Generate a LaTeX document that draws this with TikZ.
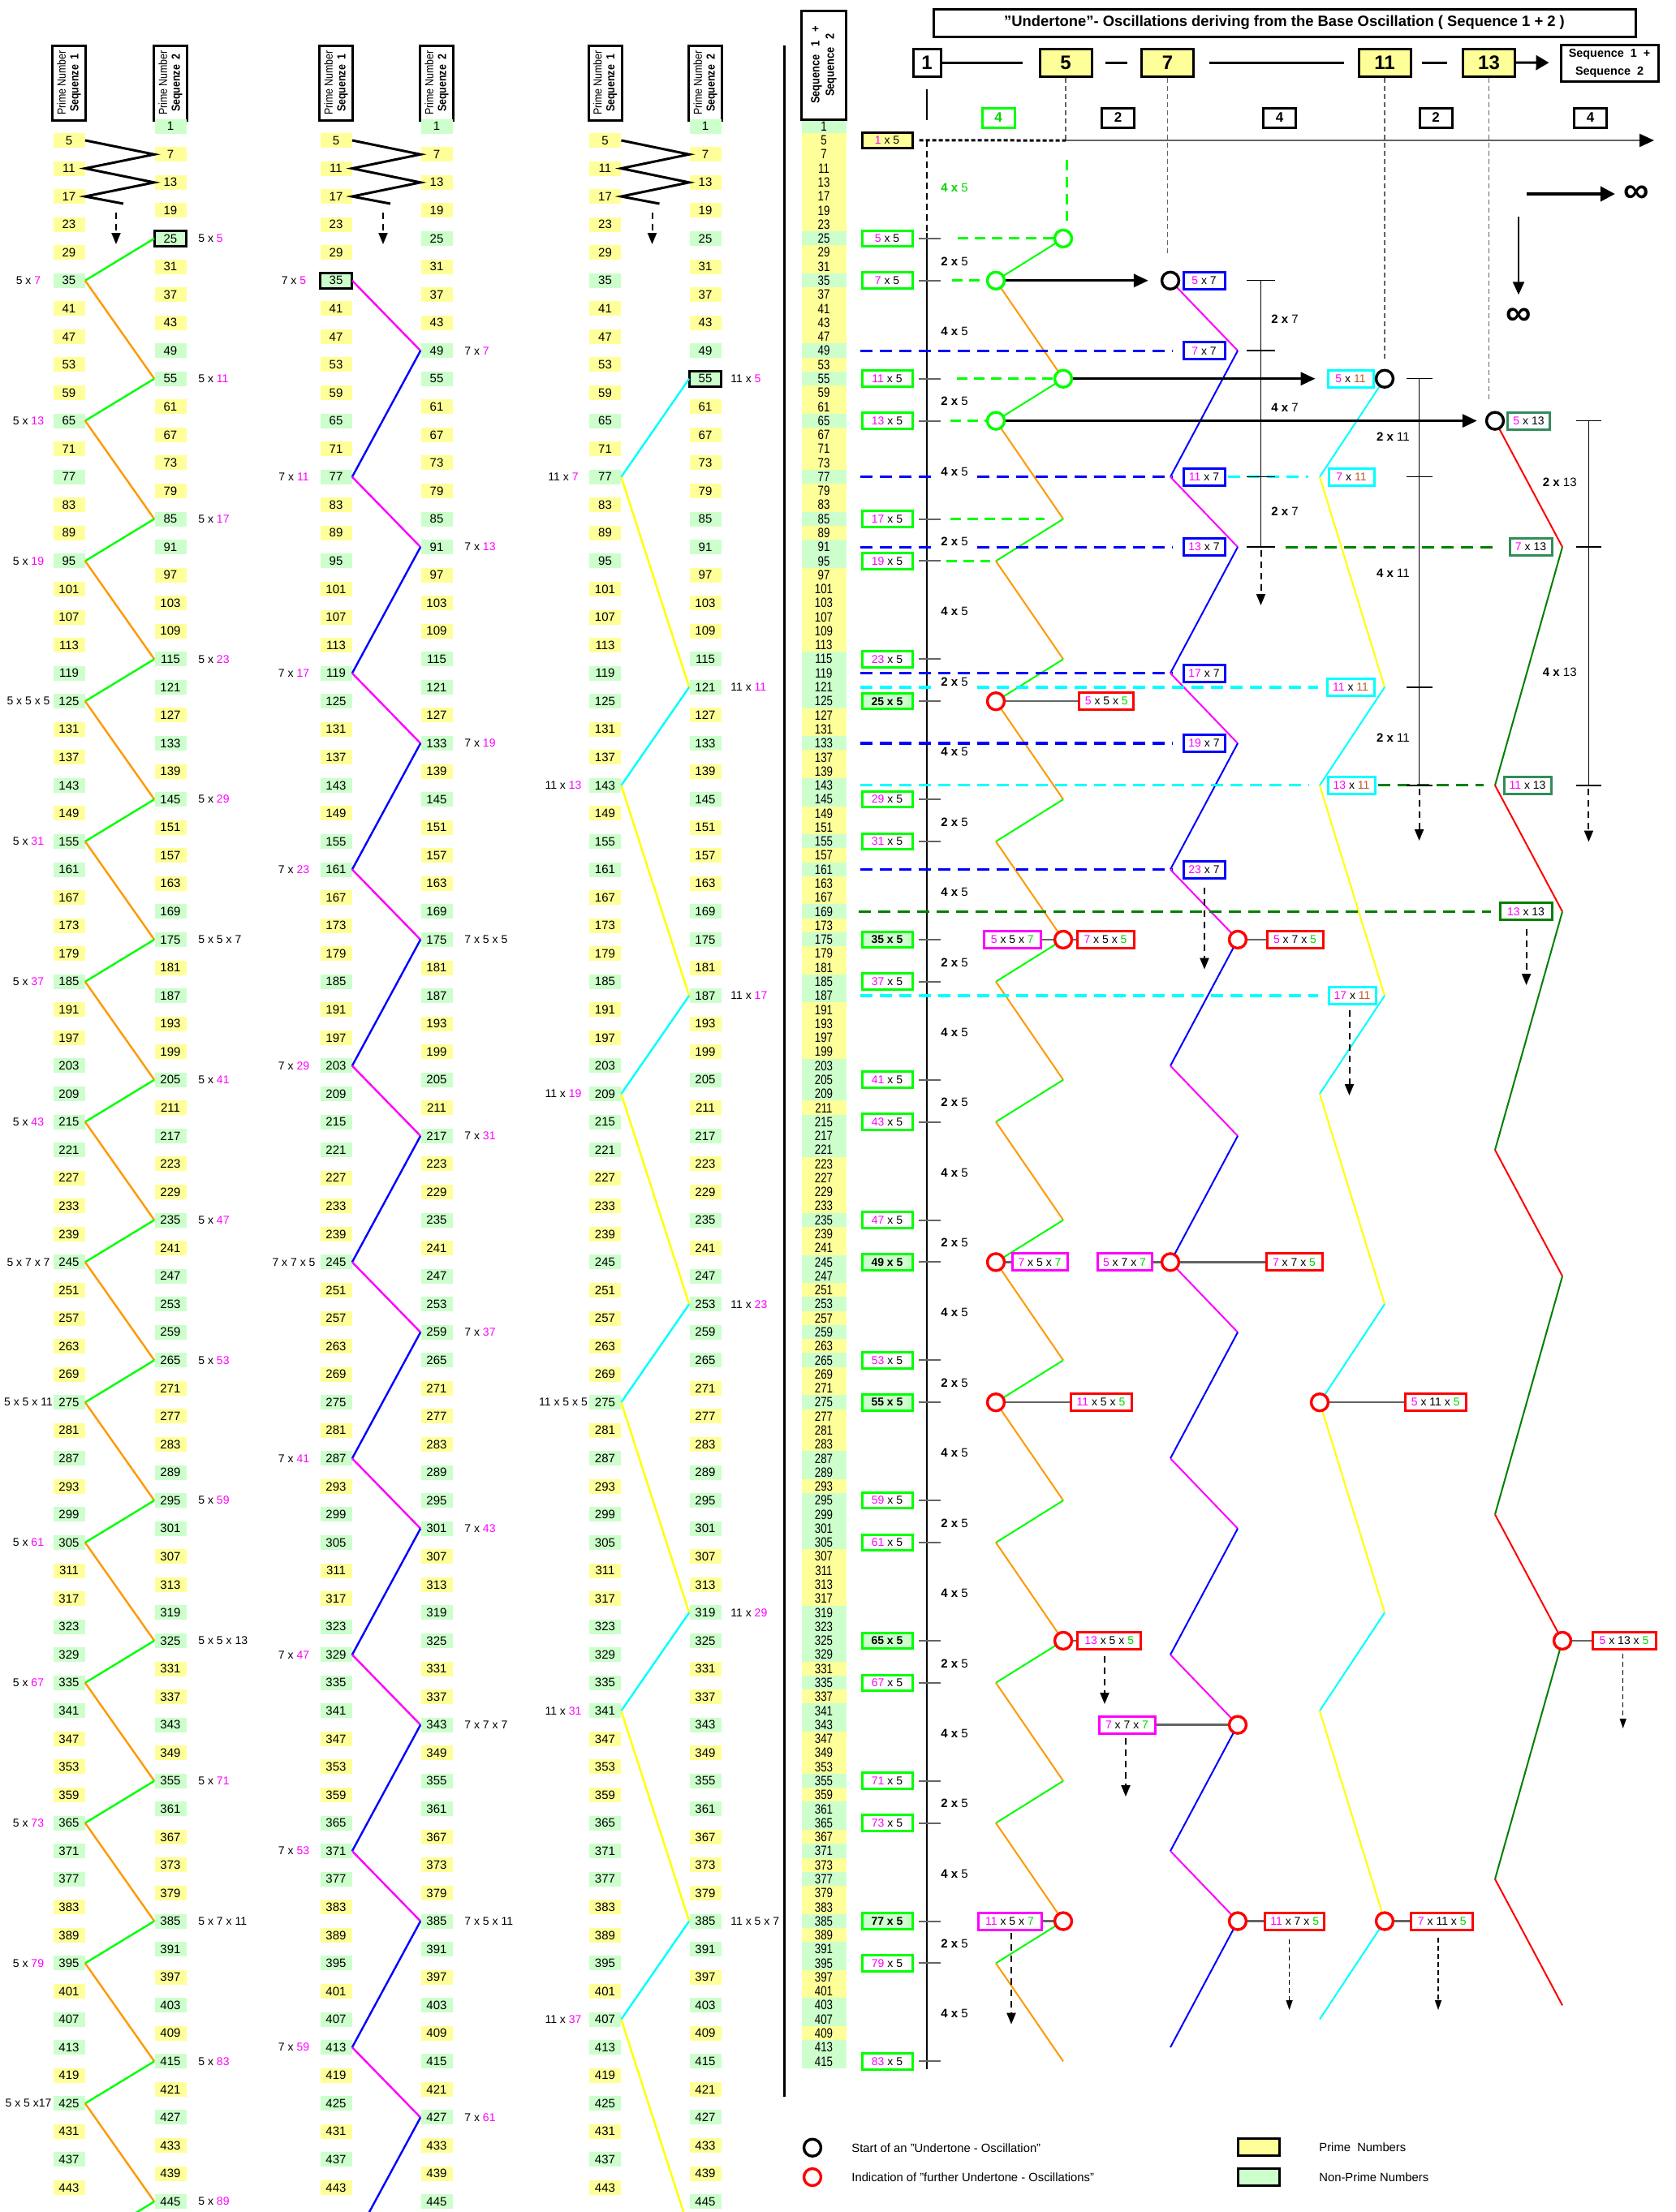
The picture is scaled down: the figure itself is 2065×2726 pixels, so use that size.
\documentclass[tikz,border=0pt]{standalone}
\usepackage{fontspec}
\setmainfont{Liberation Sans}
\newfontfamily\nar[FakeStretch=0.86]{Liberation Sans}
\newfontfamily\narr[FakeStretch=0.8]{Liberation Sans}
\usetikzlibrary{arrows.meta}
\pgfdeclarelayer{fg}
\pgfsetlayers{main,fg}
\definecolor{pyel}{RGB}{255,255,153}
\definecolor{pgrn}{RGB}{204,255,204}
\definecolor{cmg}{RGB}{255,0,255}
\definecolor{cgn}{RGB}{0,255,0}
\definecolor{cgt}{RGB}{0,215,0}
\definecolor{cor}{RGB}{255,153,0}
\definecolor{ccy}{RGB}{0,255,255}
\definecolor{cye}{RGB}{255,255,0}
\definecolor{cdg}{RGB}{0,128,0}
\definecolor{csg}{RGB}{51,140,90}
\definecolor{cbr}{RGB}{190,90,40}
\definecolor{cbl}{RGB}{0,0,255}
\definecolor{crd}{RGB}{255,0,0}
\definecolor{cgy}{RGB}{100,100,100}
\newcommand\cmag[1]{\textcolor{cmg}{#1}}
\newcommand\cgrn[1]{\textcolor{cgt}{#1}}
\newcommand\cbrn[1]{\textcolor{cbr}{#1}}
\def\ypr{pyel}
\newcommand\tdiv[2]{\ifnum#1>#2\relax\ifnum\numexpr(#1/#2)*#2\relax=#1\relax\def\cellc{pgrn}\fi\fi}
\newcommand\setcellc[1]{\def\cellc{pyel}\ifnum#1=1\relax\def\cellc{pgrn}\fi
  \tdiv{#1}{5}\tdiv{#1}{7}\tdiv{#1}{11}\tdiv{#1}{13}\tdiv{#1}{17}\tdiv{#1}{19}}
\pgfmathdeclarefunction{ry}{1}{\pgfmathparse{155.7+17.28*#1}}
\newcommand\zig[4]{%
  \foreach \nn [remember=\nn as \prv (initially 0)] in {#4}{%
    \ifnum\prv>0\relax
      \ifnum\numexpr((\prv-1)/6)*6+1\relax=\prv\relax
        \draw[zz,#2] (#1\prv.west) -- (#1\nn.east);
      \else
        \draw[zz,#3] (#1\prv.east) -- (#1\nn.west);
      \fi
    \fi}}
\newcommand\oscpts[4]{%
  \foreach \nn in {#4}{%
    \edef\rr{\the\numexpr(\nn-1)/3\relax}%
    \ifodd\rr\relax \coordinate (#1\nn) at (#2,{ry(\rr)});%
    \else \coordinate (#1\nn) at (#3,{ry(\rr)});\fi}}
\newcommand\osclines[4]{%
  \foreach \nn [remember=\nn as \prv (initially 0)] in {#4}{%
    \ifnum\prv>0\relax
      \ifnum\numexpr((\prv-1)/6)*6+1\relax=\prv\relax
        \draw[osl,#2] (#1\prv) -- (#1\nn);
      \else
        \draw[osl,#3] (#1\prv) -- (#1\nn);
      \fi
    \fi}}
\newcommand\clab[5]{%
  \edef\rr{\the\numexpr(#2-1)/3\relax}%
  \ifodd\rr\relax \node[lab] (#1l#2) at (#4,{ry(\rr)}) {#3};%
  \else \node[lab,anchor=west] (#1l#2) at (#5,{ry(\rr)}) {#3};\fi}
\tikzset{
 numbox/.style={minimum width=19.5pt,minimum height=9pt,inner sep=0pt,font=\fontsize{7.5}{8}\selectfont},
 cbox/.style={minimum width=27.5pt,minimum height=8.9pt,inner sep=0pt,font=\narr\fontsize{8.3}{8.5}\selectfont},
 lab/.style={inner sep=0pt,font=\fontsize{7}{8}\selectfont},
 hdr/.style={draw,line width=1.5pt,rotate=90,minimum width=46pt,minimum height=20.5pt,inner sep=0pt,align=center,font=\nar\fontsize{7.2}{7.9}\selectfont},
 zz/.style={line width=1.2pt},
 osl/.style={line width=1pt},
 fbox/.style={draw=cgn,line width=1.5pt,fill=white,minimum width=31pt,minimum height=9.8pt,inner sep=0pt,font=\fontsize{7}{8}\selectfont},
 sbox/.style={draw,line width=1.5pt,fill=white,minimum width=20pt,minimum height=12pt,inner sep=0pt,font=\bfseries\fontsize{8.5}{9}\selectfont},
 hbox/.style={draw,line width=1.5pt,fill=pyel,minimum width=32pt,minimum height=17pt,inner sep=0pt,font=\bfseries\fontsize{12}{12}\selectfont},
 vbox/.style={draw,line width=1.5pt,fill=white,minimum height=10.5pt,inner sep=0pt,font=\fontsize{7}{8}\selectfont},
 ring/.style={circle,draw,line width=1.7pt,fill=white,minimum size=10.5pt,inner sep=0pt},
 slab/.style={fill=white,inner sep=1.5pt,font=\fontsize{7.5}{8}\selectfont},
 alab/.style={inner sep=0pt,font=\fontsize{7.5}{8}\selectfont},
 tk/.style={line width=1pt,cgy},
 axl/.style={line width=0.7pt},
 bdash/.style={line width=1.6pt,dash pattern=on 7.5pt off 4.5pt},
 gdash/.style={line width=1.5pt,cgn,dash pattern=on 6.5pt off 4pt},
 gdl/.style={line width=0.6pt,cgy,dash pattern=on 3pt off 2pt},
 darr/.style={line width=1pt,dash pattern=on 4pt off 3pt,-{Triangle[length=7pt,width=5.5pt]}},
 tarr/.style={line width=0.6pt,dash pattern=on 3pt off 2pt,-{Triangle[length=6pt,width=4pt]}},
 barr/.style={line width=1.6pt,-{Triangle[length=9pt,width=8pt]}},
 hl/.style={line width=1.5pt},
 conn/.style={line width=1.2pt,cgy},
}
\begin{document}
\begin{tikzpicture}[x=0.5pt,y=-0.5pt]
\useasboundingbox[fill=white] (0,0) rectangle (2065,2726);
% ================= left columns =================
\foreach \xa/\xb/\cc in {85/210/a,414/538/b,745.5/869/c}{%
  \node[hdr] (\cc h1) at (\xa,102) {Prime Number\\\textbf{Sequenze\ \ 1}};
  \node[hdr] (\cc h2) at (\xb,102) {Prime Number\\\textbf{Sequenze\ \ 2}};}
\foreach \k in {0,...,74}{%
  \edef\nn{\the\numexpr6*\k+1\relax}%
  \edef\rr{\the\numexpr2*\k\relax}%
  \setcellc{\nn}%
  \node[numbox,fill=\cellc] (a\nn) at (210,{ry(\rr)}) {\nn};
  \node[numbox,fill=\cellc] (b\nn) at (538,{ry(\rr)}) {\nn};
  \node[numbox,fill=\cellc] (c\nn) at (869,{ry(\rr)}) {\nn};
  \ifnum\k<70\relax\node[cbox,fill=\cellc] (d\nn) at (1015,{ry(\rr)}) {\nn};\fi
  \ifnum\k<74\relax
    \edef\nn{\the\numexpr6*\k+5\relax}%
    \edef\rr{\the\numexpr2*\k+1\relax}%
    \setcellc{\nn}%
    \node[numbox,fill=\cellc] (a\nn) at (85,{ry(\rr)}) {\nn};
    \node[numbox,fill=\cellc] (b\nn) at (414,{ry(\rr)}) {\nn};
    \node[numbox,fill=\cellc] (c\nn) at (745.5,{ry(\rr)}) {\nn};
    \ifnum\k<69\relax\node[cbox,fill=\cellc] (d\nn) at (1015,{ry(\rr)}) {\nn};\fi
  \fi}
\node[numbox] (a455) at (85,{ry(151)}) {};
\node[numbox] (b455) at (414,{ry(151)}) {};
\node[numbox] (c451) at (869,{ry(150)}) {};
\draw[line width=1.5pt] (a25.south west) rectangle (a25.north east);
\draw[line width=1.5pt] (b35.south west) rectangle (b35.north east);
\draw[line width=1.5pt] (c55.south west) rectangle (c55.north east);
\foreach \cc/\xo in {a/0,b/329,c/660.5}{%
  \coordinate (\cc zend) at (152+\xo,251);
  \coordinate (\cc da) at (143+\xo,262);
  \coordinate (\cc db) at (143+\xo,301);
  \draw[line width=1.5pt] (\cc5.east) -- (\cc7.west) -- (\cc11.east) -- (\cc13.west) -- (\cc17.east) -- (\cc zend);
  \draw[darr] (\cc da) -- (\cc db);}
\foreach \nn/\tx in {25/{5 x \cmag{5}},35/{5 x \cmag{7}},55/{5 x \cmag{11}},65/{5 x \cmag{13}},85/{5 x \cmag{17}},95/{5 x \cmag{19}},115/{5 x \cmag{23}},125/{5 x 5 x 5},145/{5 x \cmag{29}},155/{5 x \cmag{31}},175/{5 x 5 x 7},185/{5 x \cmag{37}},205/{5 x \cmag{41}},215/{5 x \cmag{43}},235/{5 x \cmag{47}},245/{5 x 7 x 7},265/{5 x \cmag{53}},275/{5 x 5 x 11},295/{5 x \cmag{59}},305/{5 x \cmag{61}},325/{5 x 5 x 13},335/{5 x \cmag{67}},355/{5 x \cmag{71}},365/{5 x \cmag{73}},385/{5 x 7 x 11},395/{5 x \cmag{79}},415/{5 x \cmag{83}},425/{5 x 5 x17},445/{5 x \cmag{89}}}{\clab{a}{\nn}{\tx}{35}{244}}
\foreach \nn/\tx in {35/{7 x \cmag{5}},49/{7 x \cmag{7}},77/{7 x \cmag{11}},91/{7 x \cmag{13}},119/{7 x \cmag{17}},133/{7 x \cmag{19}},161/{7 x \cmag{23}},175/{7 x 5 x 5},203/{7 x \cmag{29}},217/{7 x \cmag{31}},245/{7 x 7 x 5},259/{7 x \cmag{37}},287/{7 x \cmag{41}},301/{7 x \cmag{43}},329/{7 x \cmag{47}},343/{7 x 7 x 7},371/{7 x \cmag{53}},385/{7 x 5 x 11},413/{7 x \cmag{59}},427/{7 x \cmag{61}}}{\clab{b}{\nn}{\tx}{362}{572}}
\foreach \nn/\tx in {55/{11 x \cmag{5}},77/{11 x \cmag{7}},121/{11 x \cmag{11}},143/{11 x \cmag{13}},187/{11 x \cmag{17}},209/{11 x \cmag{19}},253/{11 x \cmag{23}},275/{11 x 5 x 5},319/{11 x \cmag{29}},341/{11 x \cmag{31}},385/{11 x 5 x 7},407/{11 x \cmag{37}}}{\clab{c}{\nn}{\tx}{694}{900}}
\begin{scope}
\clip (0,0) rectangle (2065,2726);
\zig{a}{cgn}{cor}{25,35,55,65,85,95,115,125,145,155,175,185,205,215,235,245,265,275,295,305,325,335,355,365,385,395,415,425,445,455}
\zig{b}{cbl}{cmg}{35,49,77,91,119,133,161,175,203,217,245,259,287,301,329,343,371,385,413,427,455}
\zig{c}{ccy}{cye}{55,77,121,143,187,209,253,275,319,341,385,407,451}
\end{scope}
% ================= combined column =================
\node[draw,line width=1.5pt,rotate=90,minimum width=67pt,minimum height=27.5pt,inner sep=0pt,align=center,font=\nar\bfseries\fontsize{7.4}{9}\selectfont] (dh) at (1015,80) {Sequence\ \ \ 1\ \ \ +\\Sequence\ \ \ 2};
\coordinate (sep1) at (966,56); \coordinate (sep2) at (966,2584);
\draw[line width=1.5pt] (sep1) -- (sep2);
% ================= oscillation vertices =================
\oscpts{p}{1227}{1310}{25,35,55,65,85,95,115,125,145,155,175,185,205,215,235,245,265,275,295,305,325,335,355,365,385,395,415}
\oscpts{q}{1442}{1525}{35,49,77,91,119,133,161,175,203,217,245,259,287,301,329,343,371,385,413}
\oscpts{r}{1626}{1706}{55,77,121,143,187,209,253,275,319,341,385,407}
\oscpts{u}{1842}{1925}{65,91,143,169,221,247,299,325,377,403}
% ================= foreground boxes =================
\begin{pgfonlayer}{fg}
\node[draw,line width=1.5pt,fill=white,minimum width=432.5pt,minimum height=17pt,inner sep=0pt,font=\bfseries\fontsize{9.2}{10}\selectfont] (title) at (1582.5,28) {"Undertone"- Oscillations deriving from the Base Oscillation ( Sequence 1 + 2 )};
\node[hbox,fill=white,minimum width=17pt] (h1) at (1142,77) {1};
\node[hbox] (h5) at (1313,77) {5};
\node[hbox] (h7) at (1438.5,77) {7};
\node[hbox] (h11) at (1706,77) {11};
\node[hbox] (h13) at (1834.5,77) {13};
\node[draw,line width=1.5pt,fill=white,minimum width=60pt,minimum height=22.5pt,inner sep=0pt,align=center,font=\bfseries\fontsize{7.2}{11}\selectfont] (hs) at (1983,77.5) {Sequence\ \ 1\ \ +\\Sequence\ \ 2};
\node[sbox,draw=cgn,text=cgt] (s1) at (1230,145) {4};
\node[sbox] (s2) at (1377.7,145) {2};
\node[sbox] (s3) at (1576.7,145) {4};
\node[sbox] (s4) at (1769,145) {2};
\node[sbox] (s5) at (1959.6,145) {4};
\node[fbox,draw=black,fill=pyel] (fv1) at (1093,{ry(1)}) {\cmag{1} x 5};
\foreach \m in {5,7,11,13,17,19,23,25,29,31,35,37,41,43,47,49,53,55,59,61,65,67,71,73,77,79,83}{%
  \edef\nn{\the\numexpr5*\m\relax}%
  \edef\rr{\the\numexpr(\nn-1)/3\relax}%
  \setcellc{\m}%
  \ifx\cellc\ypr
    \node[fbox] (fv\m) at (1093,{ry(\rr)}) {\cmag{\m} x 5};
  \else
    \node[fbox,fill=pgrn,font=\bfseries\fontsize{7}{8}\selectfont] (fv\m) at (1093,{ry(\rr)}) {\m\ x 5};
  \fi
  \draw[tk] (1132,{ry(\rr)}) -- (1159,{ry(\rr)});}
\node[slab,text=cgt] (sl0) at (1176,231) {\textbf{4 x} 5};
\foreach \a/\b/\s [count=\i] in {25/35/2,35/55/4,55/65/2,65/85/4,85/95/2,95/115/4,115/125/2,125/145/4,145/155/2,155/175/4,175/185/2,185/205/4,205/215/2,215/235/4,235/245/2,245/265/4,265/275/2,275/295/4,295/305/2,305/325/4,325/335/2,335/355/4,355/365/2,365/385/4,385/395/2,395/415/4}{%
  \edef\rya{\the\numexpr(\a-1)/3\relax}\edef\ryb{\the\numexpr(\b-1)/3\relax}%
  \node[slab] (sl\i) at (1176,{(ry(\rya)+ry(\ryb))/2+2}) {\textbf{\s\ x} 5};}
% n x 7 boxes
\node[vbox,draw=cbl,minimum width=25.5pt] (bx5) at (1483.5,{ry(11)}) {\cmag{5} x 7};
\node[vbox,draw=cbl,minimum width=25.5pt] (bx7) at (1483.5,{ry(16)}) {\cmag{7} x 7};
\node[vbox,draw=cbl,minimum width=25.5pt] (bx11) at (1483.5,{ry(25)}) {\cmag{11} x 7};
\node[vbox,draw=cbl,minimum width=25.5pt] (bx13) at (1483.5,{ry(30)}) {\cmag{13} x 7};
\node[vbox,draw=cbl,minimum width=25.5pt] (bx17) at (1483.5,{ry(39)}) {\cmag{17} x 7};
\node[vbox,draw=cbl,minimum width=25.5pt] (bx19) at (1483.5,{ry(44)}) {\cmag{19} x 7};
\node[vbox,draw=cbl,minimum width=25.5pt] (bx23) at (1483.5,{ry(53)}) {\cmag{23} x 7};
% n x 11 boxes
\node[vbox,draw=ccy,minimum width=28pt] (ex5) at (1664,{ry(18)}) {\cmag{5} x \cbrn{11}};
\node[vbox,draw=ccy,minimum width=28pt] (ex7) at (1665,{ry(25)}) {\cmag{7} x \cbrn{11}};
\node[vbox,draw=ccy,minimum width=29pt] (ex11) at (1664,{ry(40)}) {\cmag{11} x \cbrn{11}};
\node[vbox,draw=ccy,minimum width=29pt] (ex13) at (1665,{ry(47)}) {\cmag{13} x \cbrn{11}};
\node[vbox,draw=ccy,minimum width=29pt] (ex17) at (1666,{ry(62)}) {\cmag{17} x \cbrn{11}};
% n x 13 boxes
\node[vbox,draw=csg,minimum width=26pt] (fx5) at (1883.5,{ry(21)}) {\cmag{5} x 13};
\node[vbox,draw=csg,minimum width=26pt] (fx7) at (1886,{ry(30)}) {\cmag{7} x 13};
\node[vbox,draw=csg,minimum width=29pt] (fx11) at (1882,{ry(47)}) {\cmag{11} x 13};
\node[vbox,draw=cdg,minimum width=32pt] (fx13) at (1880,{ry(56)}) {\cmag{13} x 13};
% composite boxes
\node[vbox,draw=cmg,minimum width=34.7pt] (mb1) at (1247.3,{ry(58)}) {\cmag{5} x 5 x \cgrn{7}};
\node[vbox,draw=cmg,minimum width=34pt] (mb2) at (1281,{ry(81)}) {\cmag{7} x 5 x \cgrn{7}};
\node[vbox,draw=cmg,minimum width=33.5pt] (mb3) at (1385.5,{ry(81)}) {\cmag{5} x 7 x \cgrn{7}};
\node[vbox,draw=cmg,minimum width=34.5pt] (mb4) at (1388.5,{ry(114)}) {\cmag{7} x 7 x \cgrn{7}};
\node[vbox,draw=cmg,minimum width=39pt] (mb5) at (1244,{ry(128)}) {\cmag{11} x 5 x \cgrn{7}};
\node[vbox,draw=crd,minimum width=33.5pt] (rb1) at (1363.3,{ry(41)}) {\cmag{5} x 5 x \cgrn{5}};
\node[vbox,draw=crd,minimum width=35pt] (rb2) at (1362,{ry(58)}) {\cmag{7} x 5 x \cgrn{5}};
\node[vbox,draw=crd,minimum width=34.5pt] (rb3) at (1595.5,{ry(58)}) {\cmag{5} x 7 x \cgrn{5}};
\node[vbox,draw=crd,minimum width=34.5pt] (rb4) at (1594.5,{ry(81)}) {\cmag{7} x 7 x \cgrn{5}};
\node[vbox,draw=crd,minimum width=37.5pt] (rb5) at (1356.5,{ry(91)}) {\cmag{11} x 5 x \cgrn{5}};
\node[vbox,draw=crd,minimum width=37.5pt] (rb6) at (1768.7,{ry(91)}) {\cmag{5} x 11 x \cgrn{5}};
\node[vbox,draw=crd,minimum width=39pt] (rb7) at (1366.7,{ry(108)}) {\cmag{13} x 5 x \cgrn{5}};
\node[vbox,draw=crd,minimum width=39pt] (rb8) at (2001,{ry(108)}) {\cmag{5} x 13 x \cgrn{5}};
\node[vbox,draw=crd,minimum width=36.7pt] (rb9) at (1595.2,{ry(128)}) {\cmag{11} x 7 x \cgrn{5}};
\node[vbox,draw=crd,minimum width=38pt] (rb10) at (1776.8,{ry(128)}) {\cmag{7} x 11 x \cgrn{5}};
% circles
\node[ring,draw=cgn] (g25) at (p25) {};
\node[ring,draw=cgn] (g35) at (p35) {};
\node[ring,draw=cgn] (g55) at (p55) {};
\node[ring,draw=cgn] (g65) at (p65) {};
\node[ring] (kb35) at (q35) {};
\node[ring] (kb55) at (r55) {};
\node[ring] (kb65) at (u65) {};
\foreach \nn in {125,175,245,275,325,385}{\node[ring,draw=crd] (rp\nn) at (p\nn) {};}
\foreach \nn in {175,245,343,385}{\node[ring,draw=crd] (rq\nn) at (q\nn) {};}
\foreach \nn in {275,385}{\node[ring,draw=crd] (rr\nn) at (r\nn) {};}
\node[ring,draw=crd] (ru325) at (u325) {};
% axis labels
\node[alab,anchor=west] (l7a) at (1566,393) {\textbf{2 x} 7};
\node[alab,anchor=west] (l7b) at (1566,502.5) {\textbf{4 x} 7};
\node[alab,anchor=west] (l7c) at (1566,630) {\textbf{2 x} 7};
\node[alab,anchor=east] (l11a) at (1737,538) {\textbf{2 x} 11};
\node[alab,anchor=east] (l11b) at (1737,706) {\textbf{4 x} 11};
\node[alab,anchor=east] (l11c) at (1737,909.6) {\textbf{2 x} 11};
\node[alab,anchor=east] (l13a) at (1943,594.6) {\textbf{2 x} 13};
\node[alab,anchor=east] (l13b) at (1943,828) {\textbf{4 x} 13};
% infinity
\node[inner sep=0pt,font=\bfseries\fontsize{22}{22}\selectfont] (inf1) at (2016,239) {∞};
\node[inner sep=0pt,font=\bfseries\fontsize{22}{22}\selectfont] (inf2) at (1871,390) {∞};
% legend
\node[ring] (lg1) at (1001,2646.7) {};
\node[lab,anchor=west,font=\fontsize{7.4}{8}\selectfont] (lg1t) at (1049,2646.7) {Start of an "Undertone - Oscillation"};
\node[ring,draw=crd] (lg2) at (1001,2683) {};
\node[lab,anchor=west,font=\fontsize{7.4}{8}\selectfont] (lg2t) at (1049,2683) {Indication of "further Undertone - Oscillations"};
\node[draw,line width=1.5pt,fill=pyel,minimum width=25.5pt,minimum height=10.5pt,inner sep=0pt] (lg3) at (1550.5,2645.5) {};
\node[lab,anchor=west,font=\fontsize{7.4}{8}\selectfont] (lg3t) at (1625,2646) {Prime\ \ Numbers};
\node[draw,line width=1.5pt,fill=pgrn,minimum width=25.5pt,minimum height=10.5pt,inner sep=0pt] (lg4) at (1550.5,2682.5) {};
\node[lab,anchor=west,font=\fontsize{7.4}{8}\selectfont] (lg4t) at (1625,2683) {Non-Prime Numbers};
\end{pgfonlayer}
% ================= lines (main layer) =================
\draw[hl,shorten >=10pt] (h1) -- (h5);
\draw[hl,shorten <=7.5pt,shorten >=8pt] (h5) -- (h7);
\draw[hl,shorten <=9pt,shorten >=8.5pt] (h7) -- (h11);
\draw[hl,shorten <=6pt,shorten >=9pt] (h11) -- (h13);
\draw[hl,-{Triangle[length=8pt,width=9pt]},shorten >=6.5pt] (h13) -- (hs);
\coordinate (v5e) at (1313,173); \coordinate (v7e) at (1438.5,315);
\coordinate (v11e) at (1706,443); \coordinate (v13e) at (1834.5,495);
\draw[gdl] (h5) -- (v5e); \draw[gdl] (h7) -- (v7e); \draw[gdl] (h11) -- (v11e); \draw[gdl] (h13) -- (v13e);
\coordinate (harr) at (2038,173);
\draw[line width=1.5pt,dash pattern=on 2.5pt off 1.5pt,shorten <=3.5pt] (fv1) -- (v5e);
\draw[line width=1pt,cgy,-{Triangle[color=black,length=9pt,width=8pt]}] (v5e) -- (harr);
\coordinate (ax1) at (1142,148); \coordinate (ax2) at (1142,173); \coordinate (ax3) at (1142,287); \coordinate (ax4) at (1142,2550);
\draw[line width=0.8pt,shorten <=7pt] (h1) -- (ax1);
\draw[line width=1pt,dash pattern=on 4pt off 2.5pt] (ax2) -- (ax3);
\draw[line width=1.2pt] (ax3) -- (ax4);
\coordinate (gv1) at (1314.5,197); \coordinate (gv2) at (1314.5,272);
\draw[gdash] (gv1) -- (gv2);
% oscillations
\osclines{p}{cgn}{cor}{25,35,55,65,85,95,115,125,145,155,175,185,205,215,235,245,265,275,295,305,325,335,355,365,385,395,415}
\osclines{q}{cbl}{cmg}{35,49,77,91,119,133,161,175,203,217,245,259,287,301,329,343,371,385,413}
\osclines{r}{ccy}{cye}{55,77,121,143,187,209,253,275,319,341,385,407}
\osclines{u}{cdg}{crd}{65,91,143,169,221,247,299,325,377,403}
% green dashed
\coordinate (gd25) at (1180,{ry(8)}); \coordinate (gd35) at (1173,{ry(11)});
\coordinate (gd55) at (1179,{ry(18)}); \coordinate (gd65) at (1171,{ry(21)});
\coordinate (gd85) at (1171,{ry(28)}); \coordinate (gd95) at (1166,{ry(31)});
\draw[gdash] (gd25) -- (g25); \draw[gdash] (gd35) -- (g35);
\draw[gdash] (gd55) -- (g55); \draw[gdash] (gd65) -- (g65);
\draw[gdash,shorten >=11.5pt] (gd85) -- (p85); \draw[gdash,shorten >=3.5pt] (gd95) -- (p95);
% black arrows
\draw[barr,shorten >=7.5pt] (g35) -- (kb35);
\draw[barr,shorten >=7pt] (g55) -- (ex5);
\draw[barr,shorten >=5pt] (g65) -- (kb65);
% blue dashed
\foreach \mm/\rw in {7/16,11/25,13/30,17/39,19/44,23/53}{%
  \coordinate (bs\mm) at (1060,{ry(\rw)});
  \draw[bdash,cbl,shorten >=6pt] (bs\mm) -- (bx\mm);}
% cyan dashed
\draw[bdash,ccy,shorten <=1pt,shorten >=12pt] (bx11) -- (ex7);
\coordinate (cs121) at (1060,{ry(40)}); \draw[bdash,ccy,shorten >=5pt] (cs121) -- (ex11);
\coordinate (cs143) at (1060,{ry(47)}); \draw[bdash,ccy,shorten >=11pt] (cs143) -- (ex13);
\coordinate (cs187) at (1060,{ry(62)}); \draw[bdash,ccy,shorten >=6pt] (cs187) -- (ex17);
% dark green dashed
\coordinate (ds91) at (1584,{ry(30)}); \draw[bdash,cdg,shorten >=10pt] (ds91) -- (fx7);
\draw[bdash,cdg,shorten <=1pt,shorten >=12pt] (ex13) -- (fx11);
\coordinate (ds169) at (1058,{ry(56)}); \draw[bdash,cdg,shorten >=5pt] (ds169) -- (fx13);
% axes 7, 11, 13
\coordinate (x7a) at (1553.5,{ry(11)}); \coordinate (x7b) at (1553.5,{ry(30)}); \coordinate (x7c) at (1553.5,746);
\draw[axl] (x7a) -- (x7b); \draw[darr,shorten <=2pt] (x7b) -- (x7c);
\foreach \rw in {11,16,25,30} \draw[axl] (1536,{ry(\rw)}) -- (1571,{ry(\rw)});
\coordinate (x11a) at (1748.6,{ry(18)}); \coordinate (x11b) at (1748.6,{ry(47)}); \coordinate (x11c) at (1748.6,1036);
\draw[axl] (x11a) -- (x11b); \draw[darr,shorten <=2pt] (x11b) -- (x11c);
\foreach \rw in {18,25,40,47} \draw[axl] (1733,{ry(\rw)}) -- (1765,{ry(\rw)});
\coordinate (x13a) at (1957.4,{ry(21)}); \coordinate (x13b) at (1957.4,{ry(47)}); \coordinate (x13c) at (1957.4,1037.5);
\draw[axl] (x13a) -- (x13b); \draw[darr,shorten <=2pt] (x13b) -- (x13c);
\foreach \rw in {21,30,47} \draw[axl] (1942,{ry(\rw)}) -- (1973,{ry(\rw)});
% connectors to composite boxes
\draw[conn] (rp125) -- (rb1);
\draw[conn] (rp175) -- (mb1); \draw[conn] (rp175) -- (rb2);
\draw[conn] (rq175) -- (rb3);
\draw[conn] (rp245) -- (mb2);
\draw[conn] (rq245) -- (mb3); \draw[conn] (rq245) -- (rb4);
\draw[conn] (rp275) -- (rb5);
\draw[conn] (rr275) -- (rb6);
\draw[conn] (rp325) -- (rb7);
\draw[conn] (ru325) -- (rb8);
\draw[conn] (rq343) -- (mb4);
\draw[conn] (rp385) -- (mb5);
\draw[conn] (rq385) -- (rb9);
\draw[conn] (rr385) -- (rb10);
% dashed arrows from boxes
\coordinate (da1) at (1361,2100); \draw[darr,shorten <=3.5pt] (rb7.south -| da1) -- (da1);
\coordinate (da2) at (1387,2214); \draw[darr,shorten <=2pt] (mb4.south -| da2) -- (da2);
\coordinate (da3) at (1246,2494.6); \draw[darr,shorten <=1pt] (mb5.south -| da3) -- (da3);
\coordinate (da4) at (1588.6,2477); \draw[tarr,shorten <=5pt] (rb9.south -| da4) -- (da4);
\coordinate (da5) at (1772,2477); \draw[tarr,shorten <=4pt] (rb10.south -| da5) -- (da5);
\coordinate (da6) at (1999.7,2130); \draw[tarr,shorten <=2pt] (rb8.south -| da6) -- (da6);
\coordinate (da7) at (1484,1194.6); \draw[darr,shorten <=5pt] (bx23.south -| da7) -- (da7);
\coordinate (da8) at (1880.6,1214); \draw[darr,shorten <=5pt] (fx13.south -| da8) -- (da8);
\coordinate (da9) at (1662.5,1350); \draw[darr,shorten <=3pt] (ex17.south -| da9) -- (da9);
% infinity arrows
\coordinate (ia) at (1881,239); \draw[line width=2pt,-{Triangle[length=9pt,width=9pt]},shorten >=5pt] (ia) -- (inf1);
\coordinate (ib) at (1871,267); \draw[line width=1.2pt,-{Triangle[length=8pt,width=7pt]},shorten >=8pt] (ib) -- (inf2);
\end{tikzpicture}
\end{document}
